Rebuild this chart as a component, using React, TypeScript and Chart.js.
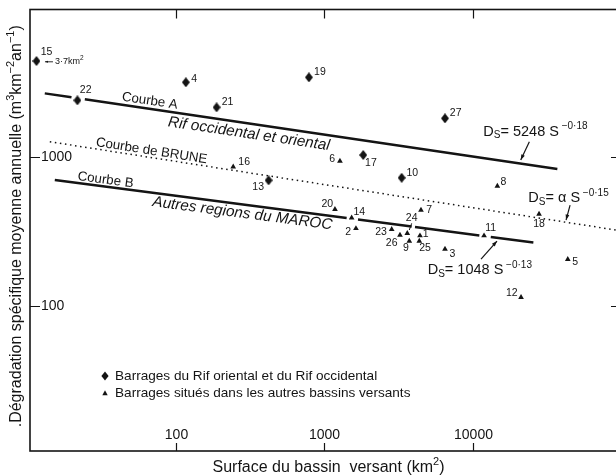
import React, { useEffect, useRef } from "react";
import { Chart, registerables } from "chart.js";

Chart.register(...registerables);

const FONT = '"Liberation Sans", Arial, Helvetica, sans-serif';
const INK = "#141414";

// ---- axes ----
const X_MIN = 10.4;
const X_MAX = 100000;
const Y_MIN = 10.7;
const Y_MAX = 9680;
const X_TICKS = [100, 1000, 10000];
const X_TICK_LABELS = ["100", "1000", "10000"];
const Y_TICKS = [100, 1000];
const Y_TICK_LABELS = ["100", "1000"];

// ---- Barrages du Rif (diamonds) ----
const RIF_IDS = ["15", "4", "22", "21", "19", "27", "17", "13", "10"];
const RIF_AREA = [11.5, 116.8, 21.7, 188.1, 788.4, 6514, 1832, 421.8, 3326];
const RIF_DS = [4375, 3150, 2386, 2142, 3402, 1808, 1026, 695, 723];

// ---- Barrages des autres bassins (triangles) ----
const OTHER_IDS = ["16", "6", "8", "20", "14", "2", "7", "23", "26", "24", "1", "9", "25", "3", "11", "18", "5", "12"];
const OTHER_AREA = [243.5, 1276, 14680, 1181, 1530, 1636, 4488, 2848, 3239, 3628, 4418, 3743, 4371, 6514, 11940, 28030, 43780, 21200];
const OTHER_DS = [857, 936, 636, 444, 390, 331, 439.5, 326, 298.9, 306.9, 295.8, 272.5, 272.5, 240.9, 295.8, 413, 205.5, 114.4];

// ---- curves (null = gap in the printed line) ----
const CURVE_A_AREA = [13.08, 19.8, 22, 24.35, 37250];
const CURVE_A_DS = [2658, 2500, null, 2424, 827];
const CURVE_B_AREA = [15.28, 1416, 1500, 1688, 3886, 4000, 4089, 11100, 12000, 13250, 25670];
const CURVE_B_DS = [698, 388.5, null, 379.7, 340.8, null, 338.2, 296.7, null, 289.9, 266.3];
const BRUNE_AREA = [14.14, 92680];
const BRUNE_DS = [1260, 322.8];

// ---- label layout (pixel offsets from each marker) ----
const RIF_LABEL_OFFSETS = [[10, -9.3], [8.3, -3], [8.3, -10.3], [11, -5.6], [11, -5], [10.7, -5], [7.7, 8.3], [-10.4, 7], [10.6, -4.4]];
const OTHER_LABEL_OFFSETS = [[11, -4.4], [-7.7, -1.7], [6, -4.3], [-7.7, -5], [7.6, -6], [-7.7, 3.4], [8.3, 0], [-10.7, 3], [-8.3, 8.3], [4.4, -15], [5.7, -1.4], [-3.3, 7.3], [5.7, 7.3], [7.3, 5.3], [6.7, -7.4], [0, 10.3], [7.3, 3], [-9.3, -4]];

// ---- curve captions (value coordinates) ----
const CURVE_TEXTS = [
  { t: "Courbe A", x: 66.8, y: 2361, rot: 8.4, size: 13.3, italic: false },
  { t: "Rif occidental et oriental", x: 310.6, y: 1420, rot: 8.4, size: 15.3, italic: true },
  { t: "Courbe de BRUNE", x: 68.6, y: 1092, rot: 8.9, size: 13.3, italic: false },
  { t: "Courbe B", x: 33.6, y: 698, rot: 7.4, size: 13.3, italic: false },
  { t: "Autres regions du MAROC", x: 280.8, y: 416.6, rot: 7.4, size: 15.3, italic: true },
];

// ---- equations (start x, centre y, value coordinates) ----
const EQUATIONS = [
  { x: 11810, y: 1470, coef: "= 5248 S", exp: " \u22120\u00b718" },
  { x: 23750, y: 526.5, coef: "= \u03b1 S", exp: " \u22120\u00b715" },
  { x: 4982, y: 174.2, coef: "= 1048 S", exp: " \u22120\u00b713" },
];
const ARROWS = [
  { x1: 24120, y1: 1260, x2: 21100, y2: 950.4 },
  { x1: 45370, y1: 474.8, x2: 42630, y2: 376.7 },
  { x1: 11390, y1: 206.5, x2: 14600, y2: 272.5 },
];

const LEGEND_ITEMS = ["Barrages du Rif oriental et du Rif occidental", "Barrages situ\u00e9s dans les autres bassins versants"];

type Run = { t: string; s: number; dy?: number };

function drawRuns(ctx: CanvasRenderingContext2D, runs: Run[], x: number, y: number, align: "left" | "center", italic = false) {
  const fontOf = (s: number) => `${italic ? "italic " : ""}${s}px ${FONT}`;
  const ws = runs.map((r) => {
    ctx.font = fontOf(r.s);
    return ctx.measureText(r.t).width;
  });
  const total = ws.reduce((a, b) => a + b, 0);
  let cx = align === "center" ? x - total / 2 : x;
  ctx.textAlign = "left";
  ctx.textBaseline = "middle";
  runs.forEach((r, i) => {
    ctx.font = fontOf(r.s);
    ctx.fillText(r.t, cx, y + (r.dy || 0));
    cx += ws[i];
  });
}

function arrow(ctx: CanvasRenderingContext2D, x1: number, y1: number, x2: number, y2: number, head = 5.5) {
  ctx.beginPath();
  ctx.moveTo(x1, y1);
  ctx.lineTo(x2, y2);
  ctx.stroke();
  const a = Math.atan2(y2 - y1, x2 - x1);
  const c = Math.cos(a), s = Math.sin(a);
  ctx.beginPath();
  ctx.moveTo(x2, y2);
  ctx.lineTo(x2 - head * c + head * 0.35 * s, y2 - head * s - head * 0.35 * c);
  ctx.lineTo(x2 - head * c - head * 0.35 * s, y2 - head * s + head * 0.35 * c);
  ctx.closePath();
  ctx.fill();
}

function makeDiamond(w: number, h: number) {
  const c = document.createElement("canvas");
  c.width = w;
  c.height = h;
  const g = c.getContext("2d")!;
  g.fillStyle = INK;
  g.beginPath();
  g.moveTo(w / 2, 0);
  g.lineTo(w, h / 2);
  g.lineTo(w / 2, h);
  g.lineTo(0, h / 2);
  g.closePath();
  g.fill();
  return c;
}

const overlayPlugin = {
  id: "overlay",
  afterDraw(chart: any) {
    const ctx: CanvasRenderingContext2D = chart.ctx;
    const { left, right, top, bottom } = chart.chartArea;
    const xs = chart.scales.x;
    const ys = chart.scales.y;
    const X = (v: number) => xs.getPixelForValue(v);
    const Y = (v: number) => ys.getPixelForValue(v);
    ctx.save();
    ctx.fillStyle = INK;
    ctx.strokeStyle = INK;

    // frame
    ctx.lineWidth = 1.6;
    ctx.strokeRect(left, top, right - left, bottom - top);

    // ticks
    ctx.lineWidth = 1.2;
    X_TICKS.forEach((v, i) => {
      const px = Math.round(X(v)) + 0.5;
      ctx.beginPath();
      ctx.moveTo(px, bottom);
      ctx.lineTo(px, bottom - 8);
      ctx.moveTo(px, top);
      ctx.lineTo(px, top + 9);
      ctx.stroke();
      ctx.font = `14px ${FONT}`;
      ctx.textAlign = "center";
      ctx.textBaseline = "middle";
      ctx.fillText(X_TICK_LABELS[i], px, bottom - 16);
    });
    Y_TICKS.forEach((v, i) => {
      const py = Math.round(Y(v)) + 0.5;
      ctx.beginPath();
      ctx.moveTo(left, py);
      ctx.lineTo(left + 10, py);
      ctx.moveTo(right, py);
      ctx.lineTo(right - 10, py);
      ctx.stroke();
      ctx.font = `14px ${FONT}`;
      ctx.textAlign = "left";
      ctx.textBaseline = "middle";
      ctx.fillText(Y_TICK_LABELS[i], left + 11, py);
    });

    // axis titles
    drawRuns(ctx, [{ t: "Surface du bassin  versant (km", s: 16 }, { t: "2", s: 11, dy: -6 }, { t: ")", s: 16 }], (left + right) / 2 + 3, bottom + 17, "center");
    ctx.save();
    ctx.translate(left - 13, (top + bottom) / 2 - 4);
    ctx.rotate(-Math.PI / 2);
    drawRuns(
      ctx,
      [
        { t: ".D\u00e9gradation sp\u00e9cifique moyenne annuelle (m", s: 16 },
        { t: "3", s: 11, dy: -6 },
        { t: "km", s: 16 },
        { t: "\u22122", s: 11, dy: -6 },
        { t: "an", s: 16 },
        { t: "\u22121", s: 11, dy: -6 },
        { t: ")", s: 16 },
      ],
      0,
      0,
      "center"
    );
    ctx.restore();

    // curve captions
    CURVE_TEXTS.forEach((c) => {
      ctx.save();
      ctx.translate(X(c.x), Y(c.y));
      ctx.rotate((c.rot * Math.PI) / 180);
      drawRuns(ctx, [{ t: c.t, s: c.size }], 0, 0, "center", c.italic);
      ctx.restore();
    });

    // equations
    EQUATIONS.forEach((e) => {
      drawRuns(
        ctx,
        [
          { t: "D", s: 14.5 },
          { t: "S", s: 10, dy: 4 },
          { t: e.coef, s: 14.5 },
          { t: e.exp, s: 10, dy: -5 },
        ],
        X(e.x),
        Y(e.y),
        "left"
      );
    });
    ctx.lineWidth = 1.2;
    ARROWS.forEach((a) => arrow(ctx, X(a.x1), Y(a.y1), X(a.x2), Y(a.y2)));

    // point labels
    ctx.font = `10.5px ${FONT}`;
    ctx.textAlign = "center";
    ctx.textBaseline = "middle";
    const rifMeta = chart.getDatasetMeta(0);
    rifMeta.data.forEach((el: any, i: number) => {
      const [dx, dy] = RIF_LABEL_OFFSETS[i];
      ctx.font = `10.5px ${FONT}`;
      ctx.textAlign = "center";
      ctx.textBaseline = "middle";
      ctx.fillText(RIF_IDS[i], el.x + dx, el.y + dy);
      if (RIF_IDS[i] === "15") {
        ctx.lineWidth = 0.9;
        arrow(ctx, el.x + 16.5, el.y + 0.8, el.x + 8.5, el.y + 0.8, 3);
        drawRuns(ctx, [{ t: "3\u00b77km", s: 9 }, { t: "2", s: 6.5, dy: -3.5 }], el.x + 18.5, el.y + 0.8, "left");
      }
    });
    const othMeta = chart.getDatasetMeta(1);
    othMeta.data.forEach((el: any, i: number) => {
      const [dx, dy] = OTHER_LABEL_OFFSETS[i];
      ctx.font = `10.5px ${FONT}`;
      ctx.textAlign = "center";
      ctx.textBaseline = "middle";
      ctx.fillText(OTHER_IDS[i], el.x + dx, el.y + dy);
      if (OTHER_IDS[i] === "24") {
        ctx.lineWidth = 1;
        ctx.beginPath();
        ctx.moveTo(el.x + 4.4, el.y - 10);
        ctx.lineTo(el.x + 2, el.y - 3.3);
        ctx.stroke();
      }
    });

    // legend
    const lx = left + 75;
    const ly = [bottom - 75, bottom - 57.7];
    ctx.beginPath();
    ctx.moveTo(lx, ly[0] - 4.6);
    ctx.lineTo(lx + 3.6, ly[0]);
    ctx.lineTo(lx, ly[0] + 4.6);
    ctx.lineTo(lx - 3.6, ly[0]);
    ctx.closePath();
    ctx.fill();
    ctx.beginPath();
    ctx.moveTo(lx, ly[1] - 3);
    ctx.lineTo(lx + 2.7, ly[1] + 2);
    ctx.lineTo(lx - 2.7, ly[1] + 2);
    ctx.closePath();
    ctx.fill();
    LEGEND_ITEMS.forEach((t, i) => drawRuns(ctx, [{ t, s: 13.6 }], lx + 10, ly[i], "left"));

    ctx.restore();
  },
};

export default function App() {
  const ref = useRef<HTMLCanvasElement>(null);
  useEffect(() => {
    const canvas = ref.current;
    if (!canvas) return;
    const diamond = makeDiamond(8, 10);
    const pts = (xs: number[], ys: (number | null)[]) => xs.map((x, i) => ({ x, y: ys[i] }));
    const chart = new Chart(canvas, {
      type: "scatter",
      data: {
        datasets: [
          {
            label: "Rif",
            data: pts(RIF_AREA, RIF_DS) as any,
            pointStyle: diamond as any,
            pointRadius: 5,
            backgroundColor: INK,
            borderWidth: 0,
          },
          {
            label: "Autres",
            data: pts(OTHER_AREA, OTHER_DS) as any,
            pointStyle: "triangle",
            pointRadius: 3.3,
            backgroundColor: INK,
            borderColor: INK,
            borderWidth: 0,
          },
          {
            label: "Courbe A",
            data: pts(CURVE_A_AREA, CURVE_A_DS) as any,
            showLine: true,
            spanGaps: false,
            pointRadius: 0,
            borderColor: INK,
            borderWidth: 2.4,
          },
          {
            label: "Courbe B",
            data: pts(CURVE_B_AREA, CURVE_B_DS) as any,
            showLine: true,
            spanGaps: false,
            pointRadius: 0,
            borderColor: INK,
            borderWidth: 2.4,
          },
          {
            label: "Courbe de BRUNE",
            data: pts(BRUNE_AREA, BRUNE_DS) as any,
            showLine: true,
            pointRadius: 0,
            borderColor: INK,
            borderWidth: 1.5,
            borderDash: [1.5, 3.6],
          },
        ],
      },
      options: {
        responsive: false,
        animation: false,
        devicePixelRatio: 1,
        events: [],
        layout: { padding: { left: 30, top: 9.5, right: 9, bottom: 25 } },
        scales: {
          x: { type: "logarithmic", min: X_MIN, max: X_MAX, display: false },
          y: { type: "logarithmic", min: Y_MIN, max: Y_MAX, display: false },
        },
        plugins: { legend: { display: false }, tooltip: { enabled: false } },
      },
      plugins: [overlayPlugin],
    });
    return () => chart.destroy();
  }, []);
  return (
    <div style={{ position: "fixed", left: 0, top: 0, width: 616, height: 476, overflow: "hidden", background: "#fff" }}>
      <canvas ref={ref} width={630} height={476} style={{ display: "block", width: 630, height: 476 }} />
    </div>
  );
}
